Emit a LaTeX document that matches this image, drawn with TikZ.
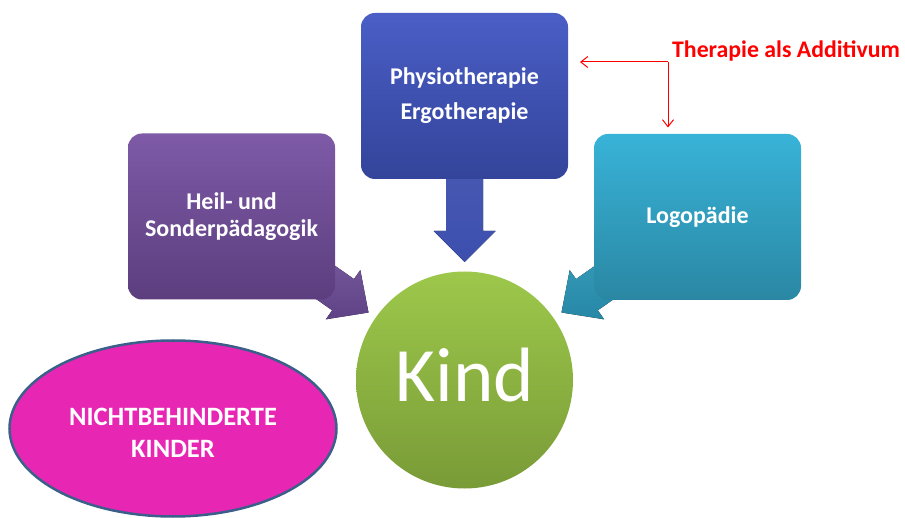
\documentclass[tikz,border=0pt]{standalone}
\usepackage{fontspec}
\setmainfont{Carlito}
\usetikzlibrary{shapes.geometric,arrows.meta}
\definecolor{purpT}{HTML}{7E5AA7}
\definecolor{purpB}{HTML}{5C3E7E}
\definecolor{purpA}{HTML}{6A4A95}
\definecolor{blueT}{HTML}{4A5EC6}
\definecolor{blueB}{HTML}{33449A}
\definecolor{blueA}{HTML}{3D4FAE}
\definecolor{cyanT}{HTML}{38B3D8}
\definecolor{cyanB}{HTML}{2A87A3}
\definecolor{cyanA}{HTML}{2B97B8}
\definecolor{greenT}{HTML}{9DC84B}
\definecolor{greenB}{HTML}{799B37}
\definecolor{magFill}{HTML}{E826B4}
\definecolor{ellBorder}{HTML}{3A5F8B}
\tikzset{
  boxshape/.style={rectangle, rounded corners=14pt, minimum width=207pt,
    minimum height=166pt, inner sep=0pt, text=white, align=center,
    font=\bfseries\fontsize{24}{27}\selectfont},
  redarrow/.style={draw=red, line width=1pt, -{Straight Barb[length=7pt,width=11pt]}},
  whitetext/.style={text=white, inner sep=0pt, align=center}
}
\begin{document}
\begin{tikzpicture}[x=1pt,y=-1pt]
\useasboundingbox (0,0) rectangle (905,518);

% block arrows (behind boxes)
\fill[top color=blueA!95!white, bottom color=blueA] (446,170) -- (483,170) -- (483,231) -- (495.5,231) -- (464.5,262) -- (433.5,231) -- (446,231) -- cycle;
\fill[top color=purpA!90!white, bottom color=purpA!90!black] (304.9,244.7) -- (354.0,279.1) -- (360.3,270.1) -- (368.5,312.5) -- (325.9,319.3) -- (332.2,310.3) -- (283.1,275.9) -- cycle;
\fill[top color=cyanA!95!white, bottom color=cyanA!90!black] (625.1,244.7) -- (576.0,279.1) -- (569.7,270.1) -- (561.5,312.5) -- (604.1,319.3) -- (597.8,310.3) -- (646.9,275.9) -- cycle;

% boxes
\node[boxshape, top color=purpT, bottom color=purpB] (heil) at (231.5,216.5) {Heil- und\\Sonderpädagogik};
\node[boxshape, top color=blueT, bottom color=blueB, font=\bfseries\fontsize{24}{35}\selectfont] (physio) at (464.5,96) {Physiotherapie\\Ergotherapie};
\node[boxshape, top color=cyanT, bottom color=cyanB] (logo) at (697.5,217) {Logopädie};

% circle
\node[circle, minimum size=217pt, inner sep=0pt, top color=greenT, bottom color=greenB] (kind) at (464.5,380) {};
\node[whitetext, anchor=base, font=\fontsize{77}{80}\selectfont] (kindtext) at (465,402) {Kind};

% ellipse
\node[ellipse, minimum width=327pt, minimum height=176pt, inner sep=0pt, fill=magFill, draw=ellBorder, line width=2.5pt] (nicht) at (173,428.5) {};
\node[whitetext, anchor=base, font=\bfseries\fontsize{26.5}{32}\selectfont] (nichttext) at (173,457) {NICHTBEHINDERTE\\KINDER};

% red annotation
\node[anchor=base west, text=red, inner sep=0pt, font=\bfseries\fontsize{23.8}{27}\selectfont] (lbl) at (672,58) {Therapie als Additivum};
\coordinate (corner) at (668,62);
\coordinate (tipPhysio) at (580,62);
\coordinate (tipLogo) at (668,127.5);
\draw[redarrow] (corner) -- (tipPhysio);
\draw[redarrow] (corner) -- (tipLogo);
\end{tikzpicture}
\end{document}
